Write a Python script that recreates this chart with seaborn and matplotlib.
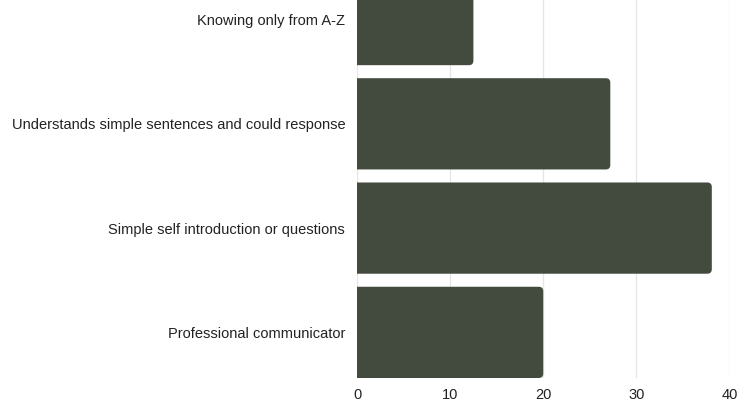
import matplotlib
matplotlib.use("Agg")
import matplotlib.pyplot as plt
import seaborn as sns
import pandas as pd
from matplotlib.patches import FancyBboxPatch

categories = [
    "Knowing only from A-Z",
    "Understands simple sentences and could response",
    "Simple self introduction or questions",
    "Professional communicator",
]
values = [12.5, 27.2, 38.1, 20]
xticks = [0, 10, 20, 30, 40]

df = pd.DataFrame({"category": categories, "value": values})

sns.set_theme(style="white")
plt.rcParams["font.family"] = ["Liberation Sans", "DejaVu Sans"]

fig = plt.figure(figsize=(7.41, 4.03), dpi=100)
ax = fig.add_axes([357 / 741, (403 - 378) / 403, (729.5 - 357) / 741, 378 / 403])

bar_color = "#424b3e"
sns.barplot(data=df, y="category", x="value", orient="h", color=bar_color,
            width=0.875, ax=ax, saturation=1)

ax.set_xlim(0, 40)
ax.set_ylim(3.4375, -0.1875)

# Replace bars with rounded ones (right corners rounded; left clipped at x=0)
ax_w_px = 729.5 - 357
ax_h_px = 378
x_per_px = 40 / ax_w_px
y_per_px = (3.4375 + 0.1875) / ax_h_px
r_px = 4.5
for p in list(ax.patches):
    x0, y0 = p.get_x(), p.get_y()
    w, h = p.get_width(), p.get_height()
    p.set_visible(False)
    rb = FancyBboxPatch((x0 - 2, y0), w + 2, h,
                        boxstyle=f"round,pad=0,rounding_size={r_px * x_per_px}",
                        mutation_aspect=y_per_px / x_per_px,
                        facecolor=bar_color, edgecolor="none", zorder=3)
    ax.add_patch(rb)

ax.set_xticks(xticks)
ax.set_xticklabels([str(t) for t in xticks])
ax.xaxis.grid(True, color="#e6e6e6", linewidth=1)
ax.yaxis.grid(False)
ax.set_axisbelow(True)
for s in ax.spines.values():
    s.set_visible(False)
ax.set_xlabel("")
ax.set_ylabel("")
ax.tick_params(axis="y", length=0, pad=8.5, labelsize=10.5, labelcolor="#222222")
ax.tick_params(axis="x", length=0, pad=7.5, labelsize=10.5, labelcolor="#222222")

fig.savefig("out.png", dpi=100)
